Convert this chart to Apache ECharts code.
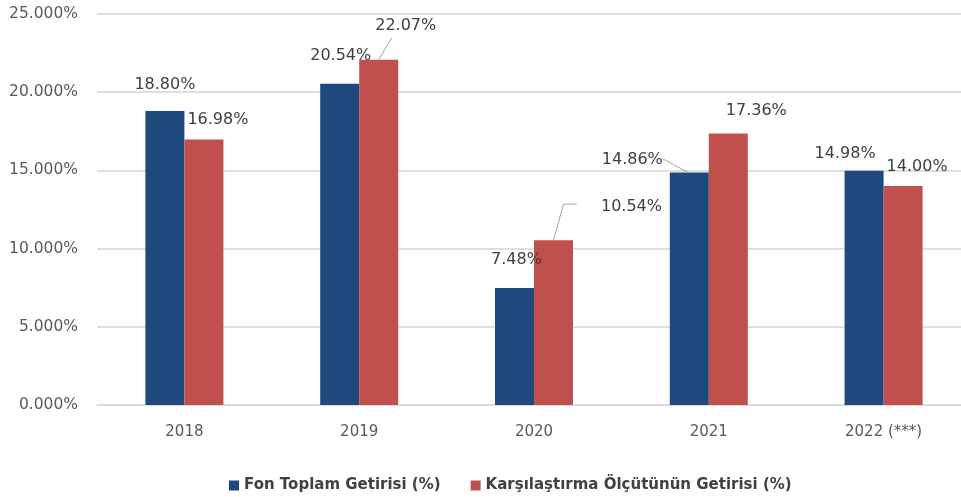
<!DOCTYPE html>
<html>
<head>
<meta charset="utf-8">
<script src="https://cdn.jsdelivr.net/npm/echarts@6/dist/echarts.min.js"></script>
<style>html,body{margin:0;padding:0;background:#fff}#c{width:961px;height:497px}</style>
</head>
<body>
<div id="c"></div>
<script>
var categories = ['2018', '2019', '2020', '2021', '2022 (***)'];
var seriesNames = ['Fon Toplam Getirisi (%)', 'Karşılaştırma Ölçütünün Getirisi (%)'];
var fundReturn = [18.80, 20.54, 7.48, 14.86, 14.98];
var benchmarkReturn = [16.98, 22.07, 10.54, 17.36, 14.00];
var yTicks = [0, 5, 10, 15, 20, 25];

// label placement (offsets in px, relative to the bar top)
var fundLabelOffset = [[0, -18], [1, -20], [2, -20], [-57, -5], [-19, -9]];
var benchLabelOffset = [[14, -12], [27, -26], [78, -25], [28, -15], [14, -11]];
// leader lines: which series / category, and bend points relative to the bar top centre (px)
var leaderLines = [
  { series: 1, cat: 1, pts: [[0, 0], [13, -22]] },
  { series: 1, cat: 2, pts: [[0, 0], [10, -36], [23, -36]] },
  { series: 0, cat: 3, pts: [[-1, 0], [-27, -14]] }
];
var BAR_W = 39;

function buildData(vals, offs) {
  return vals.map(function (v, i) {
    return { value: v, label: { offset: offs[i] } };
  });
}

var valuesBySeries = [fundReturn, benchmarkReturn];
var leaderData = leaderLines.map(function (l, i) {
  return [l.cat, valuesBySeries[l.series][l.cat], l.series, i];
});

var chart = echarts.init(document.getElementById('c'), null, { renderer: 'canvas' });
var labelStyle = {
  show: true,
  position: 'top',
  distance: 0,
  fontFamily: 'DejaVu Sans',
  fontSize: 16,
  color: '#404040',
  formatter: function (p) { return p.value.toFixed(2) + '%'; }
};
chart.setOption({
  animation: false,
  backgroundColor: '#ffffff',
  grid: { left: 97, top: 14, width: 874, height: 391, outerBoundsMode: 'none', containLabel: false },
  legend: {
    left: 224, top: 473,
    itemWidth: 10, itemHeight: 10, itemGap: 30,
    icon: 'rect',
    textStyle: { fontFamily: 'DejaVu Sans', fontWeight: 'bold', fontSize: 15, color: '#404040' },
    data: seriesNames
  },
  xAxis: {
    type: 'category',
    data: categories,
    axisLine: { lineStyle: { color: '#d9d9d9', width: 1 } },
    axisTick: { show: false },
    axisLabel: { fontFamily: 'DejaVu Sans', fontSize: 15, color: '#595959', margin: 20 }
  },
  yAxis: {
    type: 'value',
    min: yTicks[0], max: yTicks[yTicks.length - 1], interval: yTicks[1] - yTicks[0],
    axisLine: { show: false },
    axisTick: { show: false },
    splitLine: { lineStyle: { color: '#d4d4d4', width: 1.5 } },
    axisLabel: {
      fontFamily: 'DejaVu Sans', fontSize: 15.5, color: '#595959', margin: 19,
      formatter: function (v) { return v.toFixed(3) + '%'; }
    }
  },
  series: [
    {
      name: seriesNames[0], type: 'bar', barWidth: BAR_W, barGap: '0%',
      itemStyle: { color: '#1F497D' },
      label: labelStyle,
      data: buildData(fundReturn, fundLabelOffset)
    },
    {
      name: seriesNames[1], type: 'bar', barWidth: BAR_W, barGap: '0%',
      itemStyle: { color: '#C0504D' },
      label: labelStyle,
      data: buildData(benchmarkReturn, benchLabelOffset)
    },
    {
      name: 'leaders', type: 'custom', z: 5, silent: true,
      data: leaderData,
      renderItem: function (params, api) {
        var c = api.coord([api.value(0), api.value(1)]);
        var side = api.value(2) === 0 ? -BAR_W / 2 : BAR_W / 2;
        var x = c[0] + side, y = c[1];
        var l = leaderLines[api.value(3)];
        return {
          type: 'polyline',
          shape: { points: l.pts.map(function (p) { return [x + p[0], y + p[1]]; }) },
          style: { stroke: '#a6a6a6', lineWidth: 1, fill: null }
        };
      }
    }
  ]
});
</script>
</body>
</html>
